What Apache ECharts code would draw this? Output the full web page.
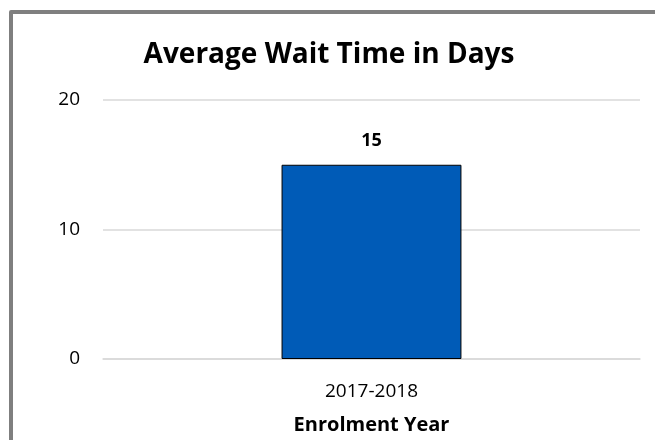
<!DOCTYPE html>
<html><head><meta charset="utf-8">
<script src="https://cdn.jsdelivr.net/npm/echarts@6/dist/echarts.min.js"></script>
<style>
html,body{margin:0;padding:0;background:#fff;overflow:hidden;}
#frame{position:absolute;left:9px;top:10px;width:720px;height:520px;border:4px solid #7f7f7f;border-radius:2px;box-sizing:border-box;}
#c{position:absolute;left:0;top:0;width:655px;height:440px;}
</style></head>
<body>
<div id="frame"></div>
<div id="c"></div>
<script>
const categories = ['2017-2018'];
const values = [15];
const yTicks = {min: 0, max: 20, interval: 10};
const titleText = 'Average Wait Time in Days';
const xName = 'Enrolment Year';

const FONT = 'Open Sans';
const chart = echarts.init(document.getElementById('c'), null, {renderer: 'canvas'});
chart.setOption({
  backgroundColor: 'transparent',
  animation: false,
  title: {
    text: titleText, left: 329, top: 41, textAlign: 'center', padding: 0,
    textStyle: {fontFamily: FONT, fontWeight: 'bold', fontSize: 28, color: '#000'}
  },
  grid: {left: 103, right: 15, top: 100, bottom: 81},
  xAxis: {
    type: 'category', data: categories,
    name: xName, nameLocation: 'middle', nameGap: 56,
    nameTextStyle: {fontFamily: FONT, fontWeight: 'bold', fontSize: 20, color: '#000'},
    axisLine: {show: true, lineStyle: {color: '#d9d9d9', width: 1.5}},
    axisTick: {show: false},
    axisLabel: {fontFamily: FONT, fontSize: 19, color: '#000', margin: 23}
  },
  yAxis: {
    type: 'value', min: yTicks.min, max: yTicks.max, interval: yTicks.interval,
    axisLine: {show: false}, axisTick: {show: false},
    splitLine: {lineStyle: {color: '#d9d9d9', width: 1.5}},
    axisLabel: {fontFamily: FONT, fontSize: 19, color: '#000', margin: 23}
  },
  series: [{
    type: 'bar', data: values, barWidth: '33.5%',
    itemStyle: {color: '#005bb7', borderColor: '#000', borderWidth: 1},
    label: {show: true, position: 'top', distance: 15, fontFamily: FONT, fontWeight: 'bold', fontSize: 18, color: '#000'}
  }]
});
</script>
</body></html>
